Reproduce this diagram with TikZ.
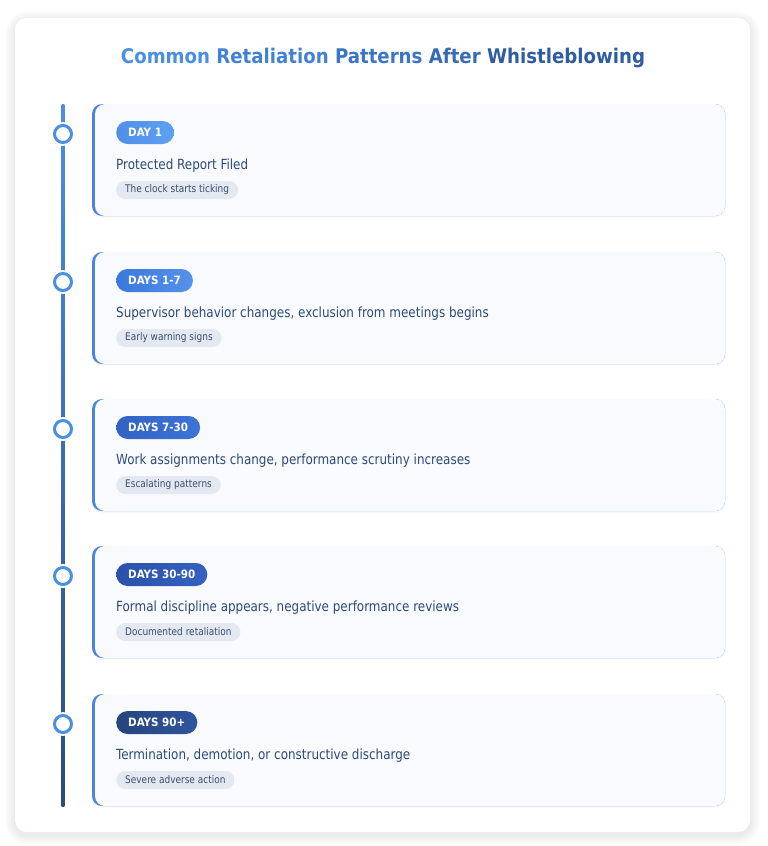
\documentclass[tikz,border=0pt]{standalone}
\usepackage{fontspec}
\setmainfont{DejaVu Sans Condensed}
\newfontfamily\bodyfont[FakeStretch=0.95]{DejaVu Sans Condensed}
\usetikzlibrary{positioning}
\definecolor{lineTop}{HTML}{4A90E2}
\definecolor{lineBot}{HTML}{2C4A7C}
\definecolor{ringBlue}{HTML}{4A90E2}
\definecolor{cardBlue}{HTML}{4A85E0}
\definecolor{cardBg}{HTML}{F8FAFE}
\definecolor{mainTxt}{HTML}{2E4A78}
\definecolor{tagBg}{HTML}{E4E9F1}
\definecolor{tagTxt}{HTML}{3A4D70}
\definecolor{tA}{HTML}{4A8FE2}
\definecolor{tB}{HTML}{2C5598}
\colorlet{t1}{tA}
\colorlet{t2}{tA!78!tB}
\colorlet{t3}{tA!55!tB}
\colorlet{t4}{tA!38!tB}
\colorlet{t5}{tA!12!tB}
\definecolor{b1l}{HTML}{4F8FE8}
\definecolor{b1r}{HTML}{5EA0F0}
\definecolor{b2l}{HTML}{3A78DC}
\definecolor{b2r}{HTML}{5592EA}
\definecolor{b3l}{HTML}{3162C4}
\definecolor{b3r}{HTML}{3D74D6}
\definecolor{b4l}{HTML}{2A52AC}
\definecolor{b4r}{HTML}{3461C0}
\definecolor{b5l}{HTML}{26457E}
\definecolor{b5r}{HTML}{30559C}
\tikzset{
  badge/.style={rounded corners=11.5pt, minimum height=23pt, inner xsep=12pt, inner ysep=0pt,
    text=white, font=\bfseries\fontsize{11.5}{14}\selectfont, anchor=west},
  maintext/.style={text=mainTxt, font=\bodyfont\fontsize{14}{17}\selectfont, inner sep=0pt, anchor=base west},
  tagbox/.style={fill=tagBg, rounded corners=9pt, minimum height=18pt, inner xsep=9pt, inner ysep=0pt,
    text=tagTxt, font=\bodyfont\fontsize{10.5}{13}\selectfont, anchor=west},
  ringnode/.style={circle, draw=ringBlue, line width=3pt, fill=white, minimum size=17pt, inner sep=0pt},
}
\begin{document}
\begin{tikzpicture}[x=1pt,y=-1pt]
\useasboundingbox (0,0) rectangle (768,846);
\fill[white] (0,0) rectangle (768,846);
% outer card shadow
\foreach \i in {1,...,10}
  \fill[black, opacity=0.007, rounded corners=12+\i] (15-\i,18-\i+3) rectangle (750+\i,832+\i+3);
\fill[white, rounded corners=12] (15,18) rectangle (750,832);
% title
\node (title) at (383,58.5) {\bfseries\fontsize{20.2}{24}\selectfont
  \textcolor{t1}{Common} \textcolor{t2}{Retaliation} \textcolor{t3}{Patterns} \textcolor{t4}{After} \textcolor{t5}{Whistleblowing}};
% timeline spine
\shade[top color=lineTop, bottom color=lineBot] (61.7,104) rectangle (64.3,806);
% events
\foreach \y/\badgetxt/\maintxt/\tagtxt/\cl/\cr [count=\n] in {
  104/{DAY 1}/{Protected Report Filed}/{The clock starts ticking}/b1l/b1r,
  252/{DAYS 1-7}/{Supervisor behavior changes, exclusion from meetings begins}/{Early warning signs}/b2l/b2r,
  399/{DAYS 7-30}/{Work assignments change, performance scrutiny increases}/{Escalating patterns}/b3l/b3r,
  546/{DAYS 30-90}/{Formal discipline appears, negative performance reviews}/{Documented retaliation}/b4l/b4r,
  694/{DAYS 90+}/{Termination, demotion, or constructive discharge}/{Severe adverse action}/b5l/b5r}
{
  \fill[black, opacity=0.02, rounded corners=10] (92,\y+1) rectangle (726,\y+114);
  \fill[cardBlue, rounded corners=10] (92,\y) rectangle (725,\y+112);
  \fill[cardBg, rounded corners=10] (95,\y) rectangle (725,\y+112);
  \fill[white] (63,\y+30) circle (12);
  \node[ringnode] (c\n) at (63,\y+30) {};
  \node[badge, left color=\cl, right color=\cr] (b\n) at (116,\y+28.5) {\badgetxt};
  \node[maintext] (m\n) at (116,\y+65) {\maintxt};
  \node[tagbox] (t\n) at (116,\y+86) {\tagtxt};
}
\end{tikzpicture}
\end{document}
